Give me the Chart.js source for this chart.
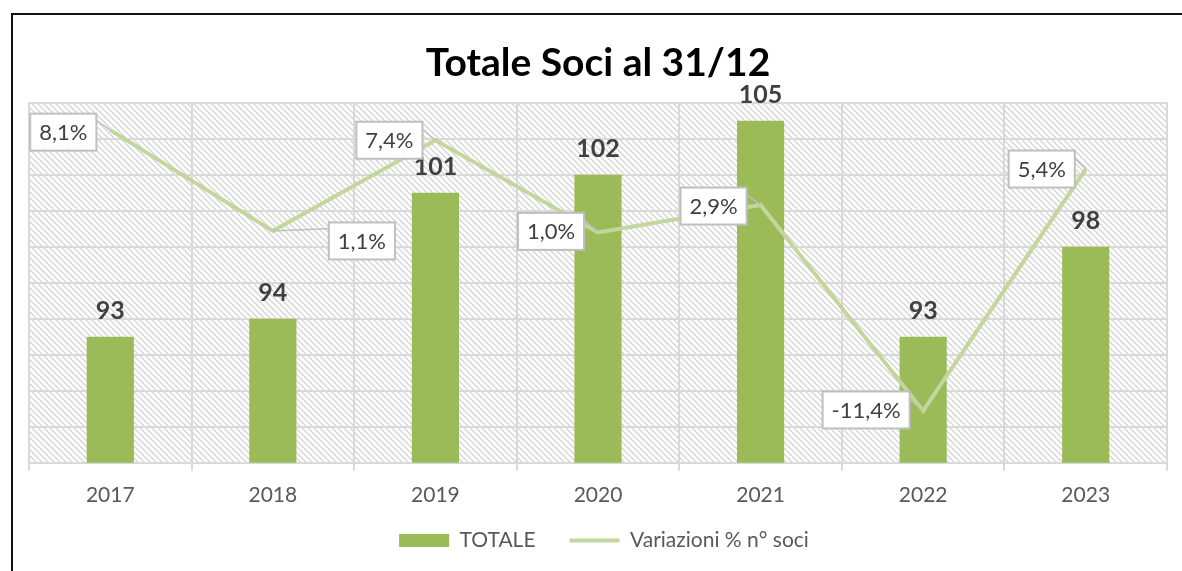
<!DOCTYPE html>
<html>
<head>
<meta charset="utf-8">
<script src="https://cdn.jsdelivr.net/npm/chart.js@4/dist/chart.umd.min.js"></script>
<style>
  html, body { margin: 0; padding: 0; background: #fff; overflow: hidden; }
  #wrap { position: relative; width: 1182px; height: 571px; }
  #frame { position: absolute; left: 11px; top: 13px; width: 1300px; height: 700px;
           border: 2px solid #111; pointer-events: none; }
</style>
</head>
<body>
<div id="wrap">
  <canvas id="soci" width="1182" height="571"></canvas>
  <div id="frame"></div>
</div>
<script>
var years = ['2017', '2018', '2019', '2020', '2021', '2022', '2023'];
var totale = [93, 94, 101, 102, 105, 93, 98];
var variazioni = [8.1, 1.1, 7.4, 1.0, 2.9, -11.4, 5.4];

// where each % callout sits, relative to its point
var calloutOffset = [[-47, 2], [89, 10], [-46, 0], [-47, -1], [-47, 1], [-57, -1], [-44, 0]];

var FONT = 'Lato, "Liberation Sans", sans-serif';

window.onload = function () {
    var canvas = document.getElementById('soci');
    var ctx = canvas.getContext('2d');

    // diagonal hatch for the plot area
    var tile = document.createElement('canvas');
    tile.width = 6; tile.height = 6;
    var t = tile.getContext('2d');
    t.fillStyle = '#ffffff';
    t.fillRect(0, 0, 6, 6);
    t.strokeStyle = '#d4d4d4';
    t.lineWidth = 1.3;
    t.beginPath();
    t.moveTo(-1, -1); t.lineTo(7, 7);
    t.moveTo(-1, 5); t.lineTo(1, 7);
    t.moveTo(5, -1); t.lineTo(7, 1);
    t.stroke();
    var hatch = ctx.createPattern(tile, 'repeat');

    var plotBg = {
        id: 'plotBg',
        beforeDraw: function (chart) {
            var a = chart.chartArea;
            chart.ctx.save();
            chart.ctx.fillStyle = hatch;
            chart.ctx.fillRect(a.left, a.top, a.right - a.left, a.bottom - a.top);
            chart.ctx.restore();
        }
    };

    // keep the legend's item spacing but pull it closer to the axis
    var legendFit = {
        id: 'legendFit',
        beforeInit: function (chart) {
            var orig = chart.legend.fit;
            chart.legend.fit = function () {
                orig.call(this);
                this.height = 51;
            };
        },
        afterLayout: function (chart) {
            chart.legend.top -= 24;
            chart.legend.bottom -= 24;
            chart.legend.left += 6;
            chart.legend.right += 6;
        }
    };

    var labels = {
        id: 'labels',
        afterDatasetsDraw: function (chart) {
            var c = chart.ctx;
            c.save();
            // bar values
            var bars = chart.getDatasetMeta(0).data;
            c.font = 'bold 25px ' + FONT;
            c.fillStyle = '#404040';
            c.textAlign = 'center';
            c.textBaseline = 'middle';
            bars.forEach(function (b, i) {
                c.fillText(String(totale[i]), b.x, b.y - 26);
            });

            // % callouts
            var pts = chart.getDatasetMeta(1).data;
            c.font = '22px ' + FONT;
            pts.forEach(function (p, i) {
                var txt = variazioni[i].toFixed(1).replace('.', ',') + '%';
                var w = c.measureText(txt).width + 18;
                var h = 37;
                var cx = p.x + calloutOffset[i][0];
                var cy = p.y + calloutOffset[i][1];
                var l = cx - w / 2, tp = cy - h / 2;
                var ax, ay;
                if (calloutOffset[i][0] < 0) { ax = l + w - 4; ay = tp + 4; }
                else { ax = l + 2; ay = tp + 6; }
                c.strokeStyle = '#bfbfbf';
                c.lineWidth = 1.5;
                c.beginPath();
                c.moveTo(ax, ay);
                c.lineTo(p.x, p.y);
                c.stroke();
                c.fillStyle = '#ffffff';
                c.fillRect(l, tp, w, h);
                c.lineWidth = 2;
                c.strokeRect(l, tp, w, h);
                c.fillStyle = '#404040';
                c.fillText(txt, cx, cy + 1);
            });
            c.restore();
        }
    };

    new Chart(ctx, {
        type: 'bar',
        data: {
            labels: years,
            datasets: [{
                label: 'TOTALE',
                data: totale,
                backgroundColor: '#9bbb59',
                categoryPercentage: 1,
                barPercentage: 0.29,
                pointStyle: 'rect',
                yAxisID: 'y',
                order: 1
            }, {
                type: 'line',
                label: 'Variazioni % n° soci',
                data: variazioni,
                borderColor: '#c3d69b',
                backgroundColor: '#c3d69b',
                borderWidth: 4,
                pointRadius: 0,
                pointStyle: 'line',
                tension: 0,
                fill: false,
                yAxisID: 'y2',
                order: 0
            }]
        },
        options: {
            responsive: false,
            animation: false,
            layout: { padding: { left: 29, right: 15, top: 0, bottom: 0 } },
            scales: {
                x: {
                    offset: true,
                    grid: { offset: true, color: '#d9d9d9', lineWidth: 2, tickLength: 8 },
                    border: { color: '#d9d9d9', width: 2 },
                    ticks: { color: '#595959', font: { family: FONT, size: 21 }, padding: 12 }
                },
                y: {
                    position: 'left',
                    min: 86,
                    max: 106,
                    ticks: { stepSize: 2, display: false },
                    grid: { color: '#d9d9d9', lineWidth: 2, drawTicks: false },
                    border: { display: false }
                },
                y2: {
                    display: false,
                    min: -15,
                    max: 10
                }
            },
            plugins: {
                title: {
                    display: true,
                    text: 'Totale Soci al 31/12',
                    color: '#000000',
                    font: { family: FONT, size: 39, weight: 'bold' },
                    padding: { top: 40, bottom: 16 }
                },
                legend: {
                    position: 'bottom',
                    labels: {
                        usePointStyle: true,
                        pointStyleWidth: 50,
                        boxHeight: 13,
                        color: '#595959',
                        font: { family: FONT, size: 21 },
                        padding: 34,
                        sort: function (a, b) { return a.datasetIndex - b.datasetIndex; }
                    }
                },
                tooltip: { enabled: false }
            }
        },
        plugins: [plotBg, legendFit, labels]
    });
};
</script>
</body>
</html>
